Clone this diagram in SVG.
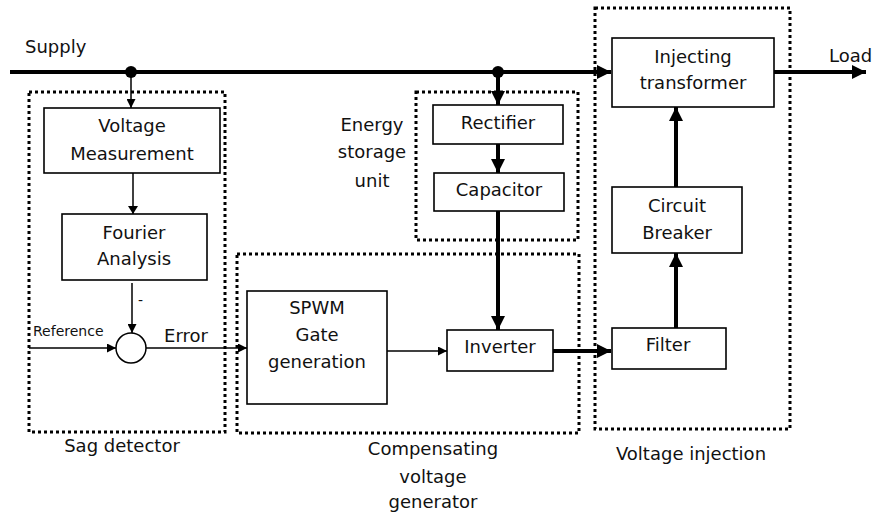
<svg xmlns="http://www.w3.org/2000/svg" width="879" height="517" viewBox="0 0 879 517">
<defs>
<marker id="ah" viewBox="0 0 10 10" refX="10" refY="5" markerWidth="9" markerHeight="9" markerUnits="userSpaceOnUse" orient="auto"><path d="M0,0 L10,5 L0,10 Z" fill="#000"/></marker>
<marker id="ahb" viewBox="0 0 10 10" refX="10" refY="5" markerWidth="14" markerHeight="14" markerUnits="userSpaceOnUse" orient="auto"><path d="M0,0 L10,5 L0,10 Z" fill="#000"/></marker>
</defs>
<style>
.box{fill:#fff;stroke:#000;stroke-width:1.6}
.grp{fill:none;stroke:#000;stroke-width:3;stroke-dasharray:3 3}
.t{font-family:"DejaVu Sans","Liberation Sans",sans-serif;font-size:18px;fill:#111;text-anchor:middle}
.ts{font-family:"DejaVu Sans","Liberation Sans",sans-serif;font-size:14px;fill:#111}
.thin{fill:none;stroke:#000;stroke-width:1.5;marker-end:url(#ah)}
.thick{fill:none;stroke:#000;stroke-width:4;marker-end:url(#ahb)}
</style>
<rect width="879" height="517" fill="#fff"/>
<g id="groups">
<rect class="grp" x="29" y="92" width="196" height="340"/>
<rect class="grp" x="237" y="254" width="342" height="179"/>
<rect class="grp" x="416" y="92" width="162" height="148"/>
<rect class="grp" x="595" y="8" width="195" height="421"/>
</g>
<g id="connectors">
<line class="thick" x1="10" y1="72" x2="611" y2="72"/>
<circle cx="131" cy="72" r="6" fill="#000"/>
<circle cx="498" cy="72" r="6" fill="#000"/>
<line class="thin" x1="131" y1="72" x2="131" y2="108"/>
<line x1="133" y1="173" x2="133" y2="214" stroke="#000" stroke-width="1.5"/>
<path d="M128,206 L138,206 L133,214 Z" fill="#000"/>
<line class="thin" x1="132" y1="283" x2="132" y2="333"/>
<line class="thin" x1="29" y1="348" x2="116" y2="348"/>
<line class="thin" x1="146" y1="348" x2="247" y2="348"/>
<line class="thin" x1="387" y1="351" x2="447" y2="351"/>
<line class="thick" x1="498" y1="72" x2="498" y2="105"/>
<line class="thick" x1="498" y1="144" x2="498" y2="173"/>
<line class="thick" x1="498" y1="211" x2="498" y2="330"/>
<line class="thick" x1="553" y1="351" x2="611" y2="351"/>
<line class="thick" x1="676" y1="328" x2="676" y2="253"/>
<line class="thick" x1="676" y1="187" x2="676" y2="107"/>
<line class="thick" x1="774" y1="72" x2="866" y2="72"/>
</g>
<g id="voltage-measurement"><rect class="box" x="44" y="108" width="176" height="65"/><text class="t" x="132" y="132">Voltage</text><text class="t" x="132" y="160">Measurement</text></g>
<g id="fourier-analysis"><rect class="box" x="62" y="214" width="145" height="66"/><text class="t" x="134" y="239">Fourier</text><text class="t" x="134" y="265">Analysis</text></g>
<g id="summer"><circle cx="131" cy="348" r="15" fill="#fff" stroke="#000" stroke-width="1.5"/></g>
<g id="spwm"><rect class="box" x="247" y="291" width="140" height="113"/><text class="t" x="317" y="314">SPWM</text><text class="t" x="317" y="341">Gate</text><text class="t" x="317" y="368">generation</text></g>
<g id="inverter"><rect class="box" x="447" y="330" width="106" height="41"/><text class="t" x="500" y="353">Inverter</text></g>
<g id="rectifier"><rect class="box" x="433" y="105" width="130" height="39"/><text class="t" x="498" y="129">Rectifier</text></g>
<g id="capacitor"><rect class="box" x="434" y="173" width="130" height="38"/><text class="t" x="499" y="196">Capacitor</text></g>
<g id="injecting-transformer"><rect class="box" x="612" y="38" width="162" height="69"/><text class="t" x="693" y="63">Injecting</text><text class="t" x="693" y="89">transformer</text></g>
<g id="circuit-breaker"><rect class="box" x="612" y="187" width="130" height="66"/><text class="t" x="677" y="212">Circuit</text><text class="t" x="677" y="239">Breaker</text></g>
<g id="filter"><rect class="box" x="612" y="328" width="114" height="41"/><text class="t" x="668" y="351">Filter</text></g>
<g id="labels">
<text class="t" x="25" y="53" style="text-anchor:start">Supply</text>
<text class="t" x="829" y="62" style="text-anchor:start">Load</text>
<text class="t" x="372" y="131">Energy</text>
<text class="t" x="372" y="158">storage</text>
<text class="t" x="372" y="187">unit</text>
<text class="ts" x="33" y="336">Reference</text>
<text class="ts" x="138" y="305">-</text>
<text class="t" x="186" y="342">Error</text>
<text class="t" x="122" y="452">Sag detector</text>
<text class="t" x="433" y="455">Compensating</text>
<text class="t" x="433" y="483">voltage</text>
<text class="t" x="433" y="508">generator</text>
<text class="t" x="691" y="460">Voltage injection</text>
</g>
</svg>
